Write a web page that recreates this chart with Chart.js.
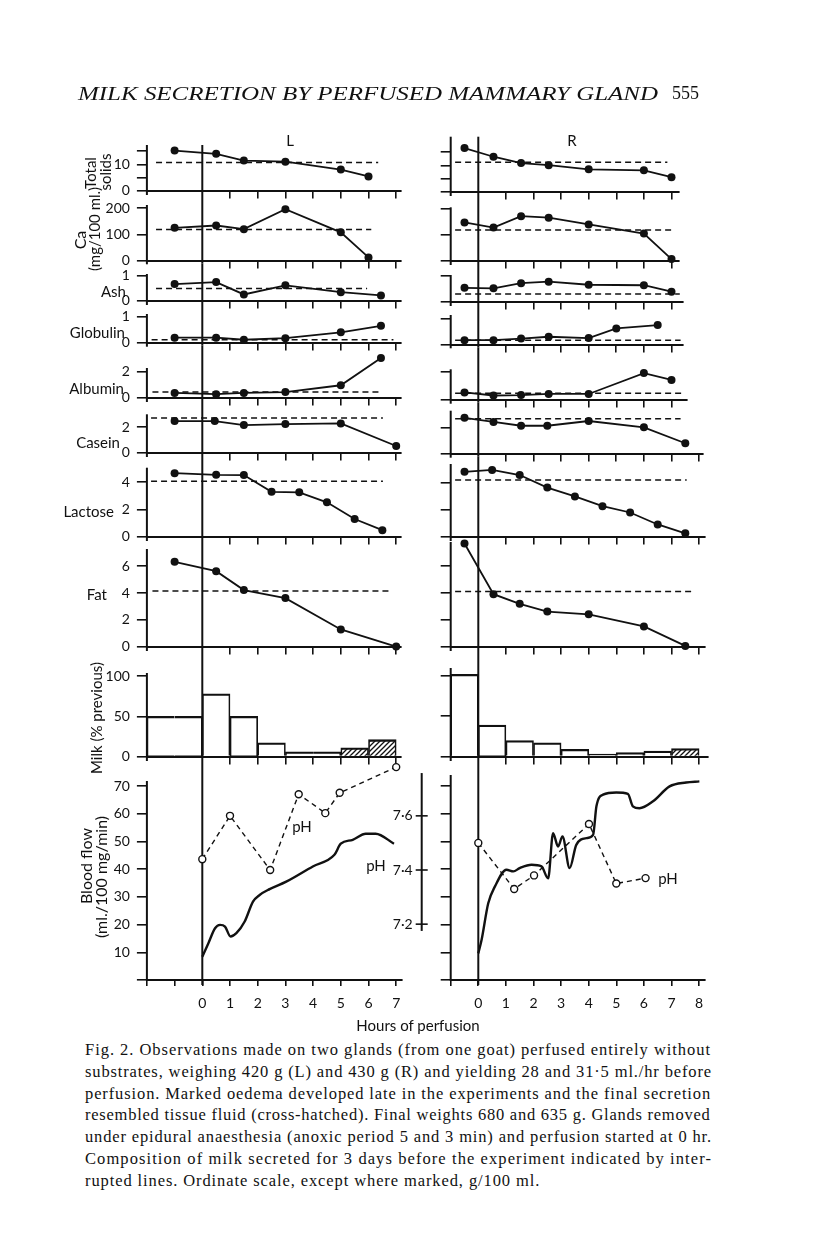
<!DOCTYPE html>
<html>
<head>
<meta charset="utf-8">
<title>Milk secretion by perfused mammary gland – Fig. 2</title>
<script src="https://cdn.jsdelivr.net/npm/chart.js@4.4.1/dist/chart.umd.min.js"></script>
<style>
  html, body { margin:0; padding:0; background:#fff; }
  body { position:relative; width:816px; height:1234px; overflow:hidden; color:#111; font-family: Lato, "Open Sans", sans-serif; }
  canvas { position:absolute; }
  .t { position:absolute; white-space:nowrap; line-height:1; font-size:15px; }
  .cap { position:absolute; left:85px; font-family:"Liberation Serif", serif; font-size:16.5px; line-height:1; white-space:nowrap; color:#111; }
</style>
</head>
<body>
<script>
// ================= DATA =================
// Hours of perfusion tick labels
const hourLabelsL = [0, 1, 2, 3, 4, 5, 6, 7];
const hourLabelsR = [0, 1, 2, 3, 4, 5, 6, 7, 8];
const panelNames = ['Total solids', 'Ca', 'Ash', 'Globulin', 'Albumin', 'Casein', 'Lactose', 'Fat', 'Milk', 'Blood flow'];
const phTickLabels = ['7·2', '7·4', '7·6'];
const phTickValues = [7.2, 7.4, 7.6];

// ---- Left gland (L) ----
const L_ts_h   = [-1, 0.5, 1.5, 3, 5, 6];
const L_ts     = [15.2, 14.0, 11.4, 11.0, 8.0, 5.4];
const L_ca_h   = [-1, 0.5, 1.5, 3, 5, 6];
const L_ca     = [125, 134, 120, 196, 108, 12];
const L_ash_h  = [-1, 0.5, 1.5, 3, 5, 6.45];
const L_ash    = [0.67, 0.75, 0.25, 0.62, 0.34, 0.21];
const L_glob_h = [-1, 0.5, 1.5, 3, 5, 6.45];
const L_glob   = [0.19, 0.19, 0.11, 0.17, 0.40, 0.65];
const L_alb_h  = [-1, 0.5, 1.5, 3, 5, 6.45];
const L_alb    = [0.36, 0.27, 0.36, 0.43, 0.96, 3.08];
const L_cas_h  = [-1, 0.45, 1.5, 3, 5, 7];
const L_cas    = [2.49, 2.49, 2.17, 2.25, 2.30, 0.52];
const L_lac_h  = [-1, 0.5, 1.5, 2.5, 3.5, 4.5, 5.5, 6.5];
const L_lac    = [4.66, 4.54, 4.52, 3.29, 3.25, 2.52, 1.29, 0.47];
const L_fat_h  = [-1, 0.5, 1.5, 3, 5, 7];
const L_fat    = [6.33, 5.63, 4.22, 3.62, 1.28, 0];
// composition of milk for 3 days before (interrupted lines)
const L_prev     = [10.7, 119, 0.49, 0.11, 0.43, 2.72, 4.07, 4.15];
const L_prevFrom = [-1.67, -1.67, -1.67, -1.83, -1.8, -1.85, -1.85, -1.8];
const L_prevTo   = [6.35, 6.1, 5.95, 6.9, 6.47, 6.52, 6.52, 6.84];
// milk (% previous), bins start hour
const L_milkBin      = [-2, -1, 0, 1, 2, 3, 4];
const L_milk         = [50, 50, 78, 50, 17, 6, 6];
const L_milkHatchBin = [5, 6];
const L_milkHatch    = [11, 21];
// blood flow (ml./100 mg/min)
const L_flow_h = [0, 0.22, 0.46, 0.64, 0.82, 1.02, 1.23, 1.53, 1.83, 2.07, 2.43, 3.03, 3.99, 4.77, 5.0, 5.43, 5.9, 6.26, 6.92];
const L_flow   = [8.4, 13.3, 18.7, 19.9, 19.3, 15.7, 16.9, 21.1, 28.3, 30.7, 32.8, 35.5, 41, 45.2, 49.2, 50.6, 52.8, 52.8, 49.2];
// pH
const L_ph_h = [0, 1.0, 2.45, 3.48, 4.44, 4.96, 7.0];
const L_ph   = [7.44, 7.60, 7.40, 7.68, 7.61, 7.685, 7.78];

// ---- Right gland (R) ----
const R_ts_h   = [-0.5, 0.55, 1.55, 2.55, 4, 6, 7];
const R_ts     = [16.6, 13.3, 10.9, 10.1, 8.5, 8.1, 5.5];
const R_ca_h   = [-0.5, 0.55, 1.55, 2.55, 4, 6, 7];
const R_ca     = [147, 127, 171, 165, 139, 104, 6];
const R_ash_h  = [-0.5, 0.55, 1.55, 2.55, 4, 6, 7];
const R_ash    = [0.54, 0.52, 0.72, 0.78, 0.66, 0.64, 0.39];
const R_glob_h = [-0.5, 0.55, 1.55, 2.55, 4, 5, 6.5];
const R_glob   = [0.17, 0.17, 0.23, 0.30, 0.25, 0.62, 0.75];
const R_alb_h  = [-0.5, 0.55, 1.55, 2.55, 4, 6, 7];
const R_alb    = [0.52, 0.30, 0.33, 0.41, 0.41, 1.93, 1.43];
const R_cas_h  = [-0.5, 0.55, 1.55, 2.5, 4, 6, 7.5];
const R_cas    = [2.72, 2.41, 2.12, 2.12, 2.48, 2.0, 0.79];
const R_lac_h  = [-0.5, 0.5, 1.5, 2.5, 3.5, 4.5, 5.5, 6.5, 7.5];
const R_lac    = [4.81, 4.95, 4.57, 3.64, 2.98, 2.26, 1.79, 0.9, 0.24];
const R_fat_h  = [-0.5, 0.55, 1.5, 2.5, 4, 6, 7.5];
const R_fat    = [7.68, 3.91, 3.19, 2.61, 2.41, 1.5, 0.05];
const R_prev     = [11.2, 118, 0.30, 0.17, 0.46, 2.65, 4.2, 4.1];
const R_prevFrom = [-0.84, -0.84, -0.84, -0.84, -0.84, -0.84, -0.84, -0.84];
const R_prevTo   = [6.85, 7.1, 7.3, 7.33, 7.4, 7.33, 7.55, 7.85];
const R_milkBin      = [-1, 0, 1, 2, 3, 4, 5, 6];
const R_milk         = [102, 39, 20, 17, 9, 3, 5, 7];
const R_milkHatchBin = [7];
const R_milkHatch    = [10];
const R_flow_h = [0, 0.12, 0.36, 0.6, 1.02, 1.27, 1.5, 1.93, 2.29, 2.53, 2.71, 2.89, 3.05, 3.31, 3.55, 3.92, 4.16, 4.28, 4.52, 5.0, 5.42, 5.6, 5.84, 6.33, 6.93, 7.53, 8.01];
const R_flow   = [9.6, 14.5, 27.7, 33.7, 39.8, 39.2, 40.4, 41.6, 41, 36.7, 53, 48.2, 51.8, 40.4, 48.8, 51.2, 52.4, 62.7, 66.9, 67.7, 67.2, 62.7, 62, 64.5, 69.9, 71.3, 71.7];
const R_ph_h = [0, 1.3, 2.02, 4.01, 5.0, 6.06];
const R_ph   = [7.50, 7.33, 7.38, 7.57, 7.35, 7.37];

// y-axis ticks
const Y_STEPS = [5, 100, 1, 1, 2, 2, 2, 2, 50, 10];
const Y_MARKS = [[0,5,10,15],[0,100,200],[0,1],[0,1],[0,2],[0,2],[0,2,4],[0,2,4,6],[0,50,100],[0,10,20,30,40,50,60,70]];
const Y_LABELS_L = [[0,10],[0,100,200],[0,1],[0,1],[0,2],[0,2],[0,2,4],[0,2,4,6],[0,50,100],[10,20,30,40,50,60,70]];
const Y_LABELS_R = [[],[],[],[],[],[],[],[],[],[]];

// ================= LAYOUT (pixels) =================
// [axis top y, baseline y, px per unit, x max (hours)]
const GEO_L = [
  [145, 194, 2.78, 7.15], [205, 263.3, 0.272, 7.15], [274, 304, 26.7, 7.15], [314, 345.7, 27.7, 7.15],
  [368, 401, 13.85, 7.15], [414.3, 456, 13.5, 7.15], [467.7, 540, 14.17, 7.15], [549, 650, 13.8, 7.15],
  [673, 760, 0.833, 7.15], [781, 980, 2.77, 7.2]
];
const GEO_R = [
  [136.7, 195, 2.75, 7.25], [207.3, 264, 0.273, 7.25], [275, 305, 27.7, 7.4], [315, 347.3, 27.7, 7.4],
  [369.3, 402.7, 14.7, 7.55], [410.7, 456.7, 13.85, 8.15], [464, 540, 14, 8.2], [542, 650, 13.8, 8.2],
  [668, 760, 0.833, 8.3], [775, 980, 2.77, 8.2]
];
const HEADROOM = 14;              // plot area above each axis top (room for marks)
const PH_AXIS_X = 421.7;          // page x of the pH axis line
const PH_REF_PIX = 870, PH_REF = 7.4, PH_PX_PER_UNIT = 270.8;
const PH_LINE_TOP = 7.758, PH_LINE_BOT = 7.175;
const JOIN_L = [-2, 3];           // bins drawn as one block with the next one
const JOIN_R = [];

const COLS = {
  L: { left: 0, width: 420, x0: 202.3, pph: 27.7, xmin: -2, hourLabels: hourLabelsL, geo: GEO_L, labels: Y_LABELS_L },
  R: { left: 330, width: 420, x0: 478.3, pph: 27.6, xmin: -1, hourLabels: hourLabelsR, geo: GEO_R, labels: Y_LABELS_R }
};

const INK = '#111';
const NONE = 'rgba(0,0,0,0)';

Chart.defaults.font.family = 'Lato, "Open Sans", sans-serif';
Chart.defaults.font.size = 14;
Chart.defaults.color = INK;

// plugins
const zeroLine = {
  id: 'zeroLine',
  beforeDatasetsDraw(chart, args, o) {
    if (!o || o.from == null) return;
    const c = chart.ctx;
    c.save(); c.strokeStyle = INK; c.lineWidth = 2;
    // y axis (left border of the plot) from the axis top down to the baseline
    const xl = chart.chartArea.left;
    c.beginPath(); c.moveTo(xl, o.axisTop - o.top); c.lineTo(xl, o.base - o.top + 1); c.stroke();
    // vertical line at 0 hr
    const x = chart.scales.x.getPixelForValue(0);
    c.beginPath(); c.moveTo(x, o.from - o.top); c.lineTo(x, o.to - o.top); c.stroke();
    c.restore();
  }
};
const phAxisLine = {
  id: 'phAxisLine',
  afterDatasetsDraw(chart, args, o) {
    if (!o || !o.show) return;
    const s = chart.scales.ph; const x = s.right; const c = chart.ctx;
    c.save(); c.strokeStyle = INK; c.lineWidth = 2;
    c.beginPath(); c.moveTo(x, s.getPixelForValue(PH_LINE_TOP)); c.lineTo(x, s.getPixelForValue(PH_LINE_BOT)); c.stroke();
    c.lineWidth = 1.6;
    phTickValues.forEach(v => { const y = s.getPixelForValue(v); c.beginPath(); c.moveTo(x - 6, y); c.lineTo(x + 6, y); c.stroke(); });
    c.restore();
  }
};
Chart.register(zeroLine, phAxisLine);

// hatch pattern canvas
const hatchCanvas = document.createElement('canvas');
hatchCanvas.width = 5; hatchCanvas.height = 5;
(function () {
  const g = hatchCanvas.getContext('2d');
  g.strokeStyle = INK; g.lineWidth = 1.3;
  g.beginPath();
  g.moveTo(0, 5); g.lineTo(5, 0);
  g.moveTo(-1, 1); g.lineTo(1, -1);
  g.moveTo(4, 6); g.lineTo(6, 4);
  g.stroke();
})();

// dataset helpers
const pts = (h, v) => h.map((x, i) => ({ x, y: v[i] }));
function seriesDS(h, v) {
  return { type: 'line', data: pts(h, v), borderColor: INK, borderWidth: 1.8, pointRadius: 4, pointHoverRadius: 4,
    pointBackgroundColor: INK, pointBorderWidth: 0, tension: 0, clip: false, order: 1 };
}
function prevDS(val, from, to) {
  return { type: 'line', data: [{ x: from, y: val }, { x: to, y: val }], borderColor: INK, borderWidth: 1.5,
    borderDash: [6, 4], pointRadius: 0, clip: false, order: 2 };
}
function barDS(bins, vals, hatched, joins) {
  return { type: 'bar', data: bins.map((b, i) => ({ x: b + 0.5, y: vals[i] })),
    backgroundColor: hatched ? (ctx => ctx.chart.ctx.createPattern(hatchCanvas, 'repeat')) : NONE,
    borderColor: INK,
    borderWidth: ctx => { const b = bins[ctx.dataIndex];
      return { top: 1.6, bottom: 0, left: joins.includes(b - 1) ? 0 : 1, right: joins.includes(b) ? 0 : 1 }; },
    borderSkipped: 'start', barPercentage: 1, categoryPercentage: 1, grouped: false, clip: false, order: 1 };
}
function flowDS(h, v) {
  return { type: 'line', data: pts(h, v), borderColor: INK, borderWidth: 2.4, pointRadius: 0,
    cubicInterpolationMode: 'monotone', clip: false, order: 1 };
}
function phDS(h, v) {
  return { type: 'line', yAxisID: 'ph', data: pts(h, v), borderColor: INK, borderWidth: 1.4, borderDash: [5, 4],
    pointRadius: 3.5, pointHoverRadius: 3.5, pointBackgroundColor: '#fff', pointBorderColor: INK, pointBorderWidth: 1.4,
    tension: 0, clip: false, order: 2 };
}
const phAt = pix => PH_REF + (PH_REF_PIX - pix) / PH_PX_PER_UNIT;

function buildChart(col, idx, datasets, chartType, phVisible) {
  const C = COLS[col];
  const [axisTop, y0, ppu, xmax] = C.geo[idx];
  const first = idx === 0, last = idx === C.geo.length - 1;
  const prevY0 = first ? null : C.geo[idx - 1][1];
  const plotTop = axisTop - HEADROOM;
  const cTop = Math.floor(first ? plotTop - 20 : Math.min(plotTop - 18, prevY0 - 1));
  const cBot = Math.ceil(y0 + (last ? 45 : 12));
  const H = cBot - cTop, W = C.width;
  const cv = document.createElement('canvas');
  cv.width = W; cv.height = H;
  Object.assign(cv.style, { left: C.left + 'px', top: cTop + 'px', width: W + 'px', height: H + 'px' });
  document.body.appendChild(cv);
  const px = h => C.x0 + C.pph * h;
  const plotLeft = px(C.xmin) - C.left;
  const plotRight = px(xmax) - C.left;
  const marks = Y_MARKS[idx], labels = C.labels[idx];
  const phW = phVisible ? PH_AXIS_X - C.left : 0;

  const scales = {
    x: {
      type: 'linear', min: C.xmin, max: xmax, offset: false, position: 'bottom',
      afterFit: s => { s.height = cBot - y0; },
      border: { display: true, color: INK, width: 2 },
      grid: { offset: false, drawOnChartArea: false, drawTicks: true, tickLength: last ? 6 : 8, lineWidth: 1.6,
        color: c => (c.tick && (last || c.tick.value > 0)) ? INK : NONE },
      ticks: { stepSize: 1, includeBounds: false, autoSkip: false, maxRotation: 0, display: last, padding: 9,
        font: { size: 14 }, callback: v => (C.hourLabels.includes(v) ? String(v) : '') }
    },
    y: {
      type: 'linear', position: 'left', min: 0, max: (y0 - plotTop) / ppu, weight: 0,
      afterFit: s => { s.width = plotLeft - phW; },
      border: { display: false },
      grid: { drawOnChartArea: false, drawTicks: true, tickLength: 10, lineWidth: 1.6,
        color: c => (c.tick && marks.includes(c.tick.value)) ? INK : NONE },
      ticks: { stepSize: Y_STEPS[idx], includeBounds: false, autoSkip: false, padding: 7, font: { size: 14 },
        callback: v => (labels.includes(v) ? String(v) : '') }
    }
  };
  if (last) {
    scales.ph = {
      type: 'linear', position: 'left', weight: 1, display: phVisible,
      min: phAt(980), max: phAt(plotTop),
      afterFit: s => { s.width = phW; },
      border: { display: false },
      grid: { drawOnChartArea: false, drawTicks: false },
      ticks: { stepSize: 0.2, includeBounds: false, autoSkip: false, padding: 9, font: { size: 14 },
        callback: v => { const k = phTickValues.findIndex(t => Math.abs(t - v) < 1e-6); return k >= 0 ? phTickLabels[k] : ''; } }
    };
  }
  return new Chart(cv, {
    type: chartType,
    data: { datasets },
    options: {
      responsive: false, animation: false, devicePixelRatio: 1, events: [],
      layout: { autoPadding: false, padding: { top: plotTop - cTop, right: W - plotRight, bottom: 0, left: 0 } },
      plugins: {
        legend: { display: false }, tooltip: { enabled: false },
        zeroLine: { from: first ? axisTop : prevY0, to: last ? y0 + 5 : y0, top: cTop, axisTop: axisTop, base: y0 },
        phAxisLine: { show: !!phVisible }
      },
      scales
    }
  });
}

function buildColumn(col, S, prev, prevFrom, prevTo, milk, flow, ph, joins) {
  for (let i = 0; i < 8; i++) {
    buildChart(col, i, [prevDS(prev[i], prevFrom[i], prevTo[i]), seriesDS(S[i][0], S[i][1])], 'line', false);
  }
  buildChart(col, 8, [barDS(milk[0], milk[1], false, joins), barDS(milk[2], milk[3], true, joins)], 'bar', false);
  buildChart(col, 9, [flowDS(flow[0], flow[1]), phDS(ph[0], ph[1])], 'line', col === 'R');
}

buildColumn('L',
  [[L_ts_h, L_ts], [L_ca_h, L_ca], [L_ash_h, L_ash], [L_glob_h, L_glob], [L_alb_h, L_alb], [L_cas_h, L_cas], [L_lac_h, L_lac], [L_fat_h, L_fat]],
  L_prev, L_prevFrom, L_prevTo, [L_milkBin, L_milk, L_milkHatchBin, L_milkHatch], [L_flow_h, L_flow], [L_ph_h, L_ph], JOIN_L);
buildColumn('R',
  [[R_ts_h, R_ts], [R_ca_h, R_ca], [R_ash_h, R_ash], [R_glob_h, R_glob], [R_alb_h, R_alb], [R_cas_h, R_cas], [R_lac_h, R_lac], [R_fat_h, R_fat]],
  R_prev, R_prevFrom, R_prevTo, [R_milkBin, R_milk, R_milkHatchBin, R_milkHatch], [R_flow_h, R_flow], [R_ph_h, R_ph], JOIN_R);

// ================= TEXT =================
function txt(s, x, y, o) {
  o = o || {};
  const d = document.createElement('div');
  d.className = 't'; d.textContent = s;
  d.style.left = x + 'px'; d.style.top = y + 'px';
  if (o.size) d.style.fontSize = o.size + 'px';
  if (o.font) d.style.fontFamily = o.font;
  if (o.italic) d.style.fontStyle = 'italic';
  const tr = o.anchor === 'r' ? 'translate(-100%,-50%)' : o.anchor === 'l' ? 'translate(0,-50%)' : 'translate(-50%,-50%)';
  d.style.transform = tr + (o.rot ? ' rotate(-90deg)' : '');
  document.body.appendChild(d);
  return d;
}
txt('L', 290, 140);
txt('R', 572, 140);
txt('Total', 90, 173, { rot: true, size: 15 });
txt('solids', 105, 172, { rot: true, size: 15 });
txt('Ca', 80, 240, { rot: true, size: 16 });
txt('(mg/100 ml.)', 94, 229, { rot: true, size: 15 });
txt('Ash', 126, 291, { anchor: 'r' });
txt('Globulin', 125, 332, { anchor: 'r' });
txt('Albumin', 124, 388, { anchor: 'r' });
txt('Casein', 120, 442, { anchor: 'r' });
txt('Lactose', 114, 511, { anchor: 'r' });
txt('Fat', 107, 594, { anchor: 'r' });
txt('Milk (% previous)', 96, 718, { rot: true });
txt('Blood flow', 86, 866, { rot: true, size: 16 });
txt('(ml./100 mg/min)', 101, 877, { rot: true, size: 16 });
txt('pH', 302, 826);
txt('pH', 376, 865);
txt('pH', 668, 878);
txt('Hours of perfusion', 418, 1025);

// header
const head = txt('MILK SECRETION BY PERFUSED MAMMARY GLAND', 78, 93, { anchor: 'l', size: 19, font: '"Liberation Serif", serif', italic: true });
head.style.transformOrigin = '0 50%';
const hw = head.getBoundingClientRect().width;
head.style.transform = 'translate(0,-50%) scaleX(' + (580 / hw) + ')';
txt('555', 672, 93, { anchor: 'l', size: 18, font: '"Liberation Serif", serif' });

// caption: each line spread to the column width with letter spacing
const captionLines = [
  'Fig. 2.  Observations made on two glands (from one goat) perfused entirely without',
  'substrates, weighing 420 g (L) and 430 g (R) and yielding 28 and 31·5 ml./hr before',
  'perfusion.  Marked oedema developed late in the experiments and the final secretion',
  'resembled tissue fluid (cross-hatched).  Final weights 680 and 635 g.  Glands removed',
  'under epidural anaesthesia (anoxic period 5 and 3 min) and perfusion started at 0 hr.',
  'Composition of milk secreted for 3 days before the experiment indicated by inter-',
  'rupted lines.  Ordinate scale, except where marked, g/100 ml.'
];
const CAP_W = 627;
const capDivs = captionLines.map((s, i) => {
  const d = document.createElement('div');
  d.className = 'cap'; d.textContent = s;
  d.style.top = (1050 + 21.8 * i - 8) + 'px';
  document.body.appendChild(d);
  return d;
});
const spacings = capDivs.map((d, i) => (CAP_W - d.getBoundingClientRect().width) / captionLines[i].length);
const avgSp = spacings.slice(0, -1).reduce((a, b) => a + b, 0) / (spacings.length - 1);
capDivs.forEach((d, i) => {
  const sp = i === capDivs.length - 1 ? avgSp : spacings[i];
  d.style.letterSpacing = sp.toFixed(3) + 'px';
});
</script>
</body>
</html>
